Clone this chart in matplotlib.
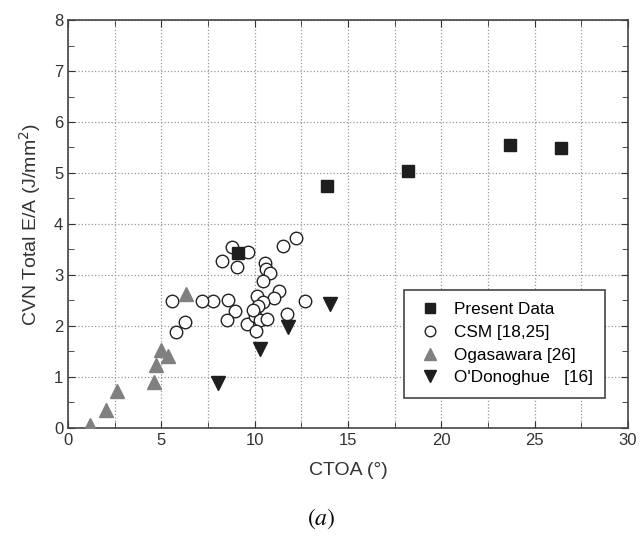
import matplotlib
matplotlib.use('Agg')
import matplotlib.pyplot as plt
from matplotlib.ticker import MultipleLocator

plt.rcParams['font.family'] = ['Liberation Sans', 'DejaVu Sans']

# Present Data
present_x = [9.1, 13.9, 18.2, 23.7, 26.4]
present_y = [3.43, 4.75, 5.04, 5.55, 5.49]

# CSM [18,25]
csm_x = [8.8, 9.65, 8.26, 9.06, 10.56, 10.6, 10.83, 10.46, 11.5, 12.2,
         11.3, 11.05, 10.13, 10.46, 10.2, 8.95, 8.58, 7.77, 7.18, 5.58,
         6.27, 5.79, 8.53, 9.6, 10.03, 10.3, 10.67, 10.08, 11.74, 12.7, 9.9]
csm_y = [3.55, 3.45, 3.27, 3.15, 3.24, 3.12, 3.04, 2.88, 3.57, 3.72,
         2.69, 2.55, 2.59, 2.47, 2.39, 2.29, 2.51, 2.49, 2.49, 2.49,
         2.08, 1.88, 2.12, 2.04, 2.2, 2.12, 2.14, 1.9, 2.24, 2.49, 2.31]

# Ogasawara [26]
oga_x = [1.18, 2.04, 2.63, 4.6, 4.72, 5.0, 5.35, 6.33]
oga_y = [0.06, 0.35, 0.72, 0.9, 1.23, 1.52, 1.42, 2.63]

# O'Donoghue [16]
odo_x = [8.04, 10.3, 11.8, 14.05]
odo_y = [0.88, 1.55, 1.98, 2.43]

fig = plt.figure(figsize=(6.42, 5.41), dpi=100)
ax = fig.add_axes([0.106, 0.209, 0.872, 0.754])

ax.plot(present_x, present_y, 's', color='#1e1e1e', ms=8.5, label='Present Data', zorder=3)
ax.plot(csm_x, csm_y, 'o', mfc='white', mec='#222222', mew=1.0, ms=9, label='CSM [18,25]', zorder=2)
ax.plot(oga_x, oga_y, '^', color='#808080', ms=10.5, label='Ogasawara [26]', zorder=3)
ax.plot(odo_x, odo_y, 'v', color='#1e1e1e', ms=10.5, label="O'Donoghue   [16]", zorder=3)

ax.set_xlim(0, 30)
ax.set_ylim(0, 8)
ax.xaxis.set_major_locator(MultipleLocator(5))
ax.xaxis.set_minor_locator(MultipleLocator(2.5))
ax.yaxis.set_major_locator(MultipleLocator(1))
ax.yaxis.set_minor_locator(MultipleLocator(0.5))
ax.tick_params(which='both', direction='in', top=True, right=True, labelsize=12, colors='#333333')
ax.tick_params(which='major', length=5)
ax.tick_params(which='minor', length=4)
ax.grid(True, which='major', axis='both', linestyle=':', color='#999999', lw=0.9)
ax.grid(True, which='minor', axis='x', linestyle=':', color='#999999', lw=0.9)
for s in ax.spines.values():
    s.set_color('#444444')
    s.set_linewidth(1.2)

ax.set_xlabel('CTOA (°)', fontsize=14, color='#333333', labelpad=10)
ax.set_ylabel('CVN Total E/A (J/mm$^2$)', fontsize=14, color='#333333', labelpad=8)

leg = ax.legend(loc='lower right', bbox_to_anchor=(0.959, 0.074), borderaxespad=0, fontsize=12.3,
                frameon=True, fancybox=False, edgecolor='#444444', borderpad=0.72, labelspacing=0.45,
                handletextpad=0.6, handlelength=1.6, markerscale=0.85, framealpha=1)
leg.get_frame().set_linewidth(1.2)

# caption under the plot
fig.text(0.5, 0.03, '$(a)$', ha='center', fontsize=17, math_fontfamily='stix')

fig.savefig('out.png', dpi=100)
